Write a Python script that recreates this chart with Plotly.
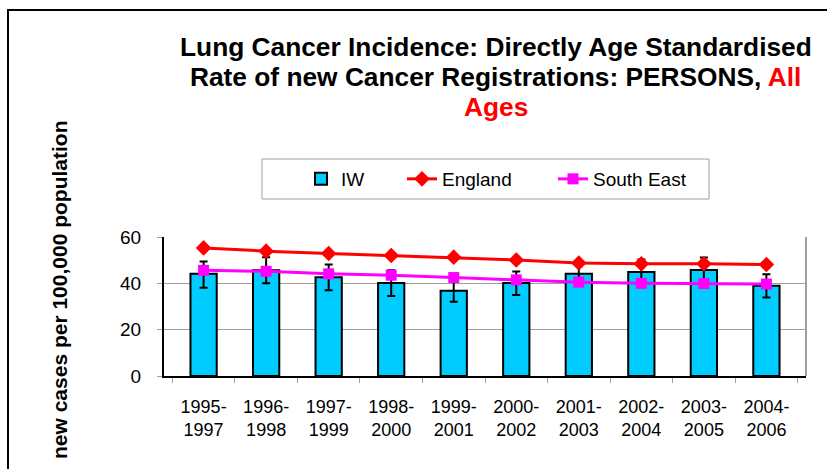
import plotly.graph_objects as go

periods = ["1995-<br>1997", "1996-<br>1998", "1997-<br>1999", "1998-<br>2000", "1999-<br>2001",
           "2000-<br>2002", "2001-<br>2003", "2002-<br>2004", "2003-<br>2005", "2004-<br>2006"]
iw = [44.1, 45.6, 42.6, 40.1, 36.8, 40.1, 44.1, 44.9, 45.8, 39.0]
iw_err_plus = [5.3, 5.7, 5.5, 5.6, 4.7, 5.0, 5.2, 5.4, 5.3, 4.9]
iw_err_minus = [6.0, 5.6, 5.6, 5.6, 4.7, 5.1, 5.2, 5.2, 5.3, 5.1]
england = [55.3, 53.9, 52.9, 52.0, 51.3, 50.1, 48.8, 48.4, 48.4, 48.1]
south_east = [45.6, 45.2, 44.1, 43.5, 42.5, 41.5, 40.5, 40.0, 39.9, 39.7]

W, H = 827, 469
ML, MR, MT, MB = 164, 21, 237, 93
PW, PH = W - ML - MR, H - MT - MB

def px(x):
    return (x - ML) / PW

def py(y):
    return (H - MB - y) / PH

FONT = "Liberation Sans"
RED = "#FF0000"

fig = go.Figure()
fig.add_trace(go.Bar(
    x=periods, y=iw, name="IW", width=0.42, legend="legend",
    marker=dict(color="#00CCFF", line=dict(color="black", width=2)),
    error_y=dict(type="data", symmetric=False, array=iw_err_plus, arrayminus=iw_err_minus,
                 color="black", thickness=2, width=4),
))
fig.add_trace(go.Scatter(
    x=periods, y=england, name="England", mode="lines+markers", legend="legend2",
    line=dict(color=RED, width=3),
    marker=dict(symbol="diamond", size=12, color=RED),
))
fig.add_trace(go.Scatter(
    x=periods, y=south_east, name="South East", mode="lines+markers", legend="legend3",
    line=dict(color="#FF00FF", width=3),
    marker=dict(symbol="square", size=11, color="#FF00FF"),
))

title_lines = [
    ("<b>Lung Cancer Incidence: Directly Age Standardised</b>", 47),
    (f"<b>Rate of new Cancer Registrations: PERSONS, <span style='color:{RED}'>All</span></b>", 77),
    (f"<b><span style='color:{RED}'>Ages</span></b>", 107),
]

def leg(xpix):
    return dict(orientation="h", x=px(xpix), y=py(179), xanchor="left", yanchor="middle",
                borderwidth=0, font=dict(size=19, family=FONT, color="black"),
                bgcolor="rgba(0,0,0,0)")

annotations = [
    dict(text=t, x=px(496), y=py(yc), xref="paper", yref="paper",
         xanchor="center", yanchor="middle", showarrow=False,
         font=dict(size=26.3, family=FONT, color="black"))
    for t, yc in title_lines
]
annotations.append(
    dict(text="<b>new cases per 100,000 population</b>", x=px(59), y=py(290),
         xref="paper", yref="paper", xanchor="center", yanchor="middle",
         textangle=-90, showarrow=False, font=dict(size=21, family=FONT, color="black")))

fig.update_layout(
    width=W, height=H,
    margin=dict(l=ML, r=MR, t=MT, b=MB, pad=0),
    paper_bgcolor="white", plot_bgcolor="white",
    font=dict(family=FONT, size=18, color="black"),
    showlegend=True,
    legend=leg(301),
    legend2=leg(402),
    legend3=leg(553),
    xaxis=dict(type="category", showline=True, linecolor="black", linewidth=2,
               ticks="outside", tickson="boundaries", ticklen=5, tickcolor="#A0A0A0",
               showgrid=False, tickfont=dict(size=18, family=FONT), ticklabelstandoff=13),
    yaxis=dict(range=[0, 60], dtick=20, showline=True, linecolor="black", linewidth=2,
               ticks="outside", ticklen=5, tickcolor="#A0A0A0",
               showgrid=True, gridcolor="#A0A0A0", gridwidth=1, zeroline=False,
               tickfont=dict(size=19, family=FONT), ticklabelstandoff=12),
    annotations=annotations,
    shapes=[
        dict(type="line", xref="paper", yref="paper", x0=1, x1=1, y0=0, y1=1,
             line=dict(color="#A0A0A0", width=2), layer="below"),
        dict(type="rect", xref="paper", yref="paper", x0=px(8), x1=px(840), y0=py(10), y1=py(480),
             line=dict(color="black", width=2), fillcolor="rgba(0,0,0,0)"),
        dict(type="rect", xref="paper", yref="paper", x0=px(262), x1=px(709), y0=py(159), y1=py(199),
             line=dict(color="#A0A0A0", width=1), fillcolor="rgba(0,0,0,0)"),
    ],
)

fig.write_html("out.html", config={"displayModeBar": False},
               post_script="document.body.style.margin='0px';")
